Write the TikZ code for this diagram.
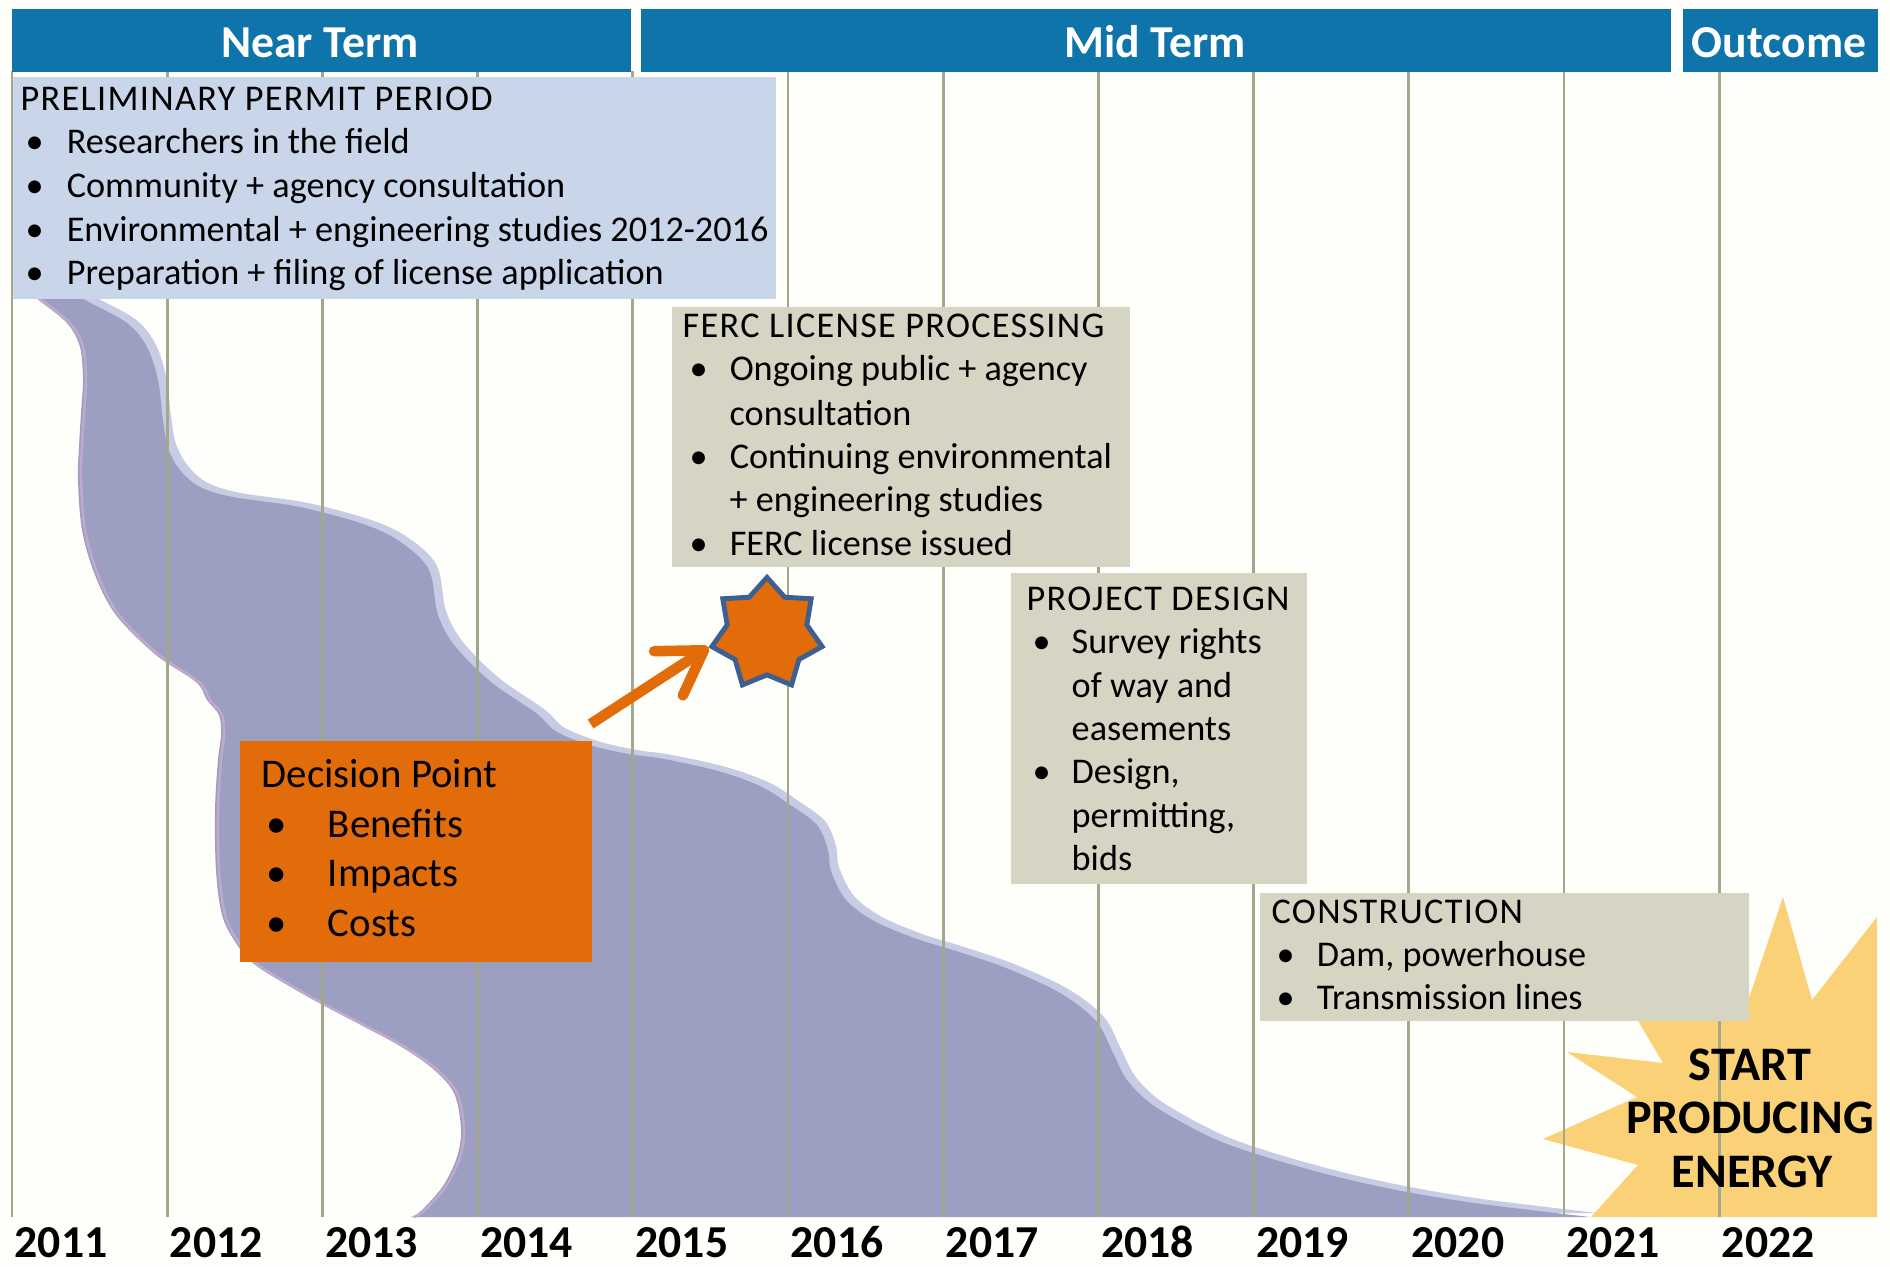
\documentclass[tikz,border=0pt]{standalone}
\usepackage{fontspec}
\setmainfont{Carlito}
\usetikzlibrary{shapes.geometric,arrows.meta,calc}

\definecolor{hdrblue}{RGB}{14,116,170}
\definecolor{permblue}{RGB}{201,213,233}
\definecolor{stone}{RGB}{214,213,196}
\definecolor{decorange}{RGB}{227,108,10}
\definecolor{starblue}{RGB}{62,96,145}
\definecolor{bandpurple}{RGB}{157,159,194}
\definecolor{bandlight}{RGB}{199,203,227}
\definecolor{bandpink}{RGB}{194,168,204}
\definecolor{burstyellow}{RGB}{250,209,118}
\definecolor{gridline}{RGB}{163,167,140}
\definecolor{paper}{RGB}{254,254,250}

% bullet followed by a fixed gap up to the item text
\newcommand{\itembul}[1]{\makebox[#1][l]{\textbullet}}

% the winding band that runs from the permit period down to 2021
\newcommand{\bandfill}[1]{%
  \fill[#1]
    plot[smooth,tension=0.55] coordinates {
      (70,290) (87,301) (127,323) (147,347) (158,380) (163,420) (168,448)
      (180,470) (200,487) (233,497) (300,507) (366,525) (402,543) (429,570)
      (438,615) (455,646) (491,682) (536,713) (557,732) (593,746) (629,754)
      (664,759) (718,771) (760,786) (789,804) (817,825) (828,850) (831,871)
      (846,900) (874,921) (917,939) (953,950) (1006,968) (1060,993)
      (1096,1021) (1113,1053) (1127,1080) (1150,1103) (1183,1123)
      (1217,1140) (1253,1153) (1300,1167) (1350,1180) (1407,1192)
      (1467,1202) (1530,1210) (1590,1217)}
    -- plot[smooth,tension=0.55] coordinates {
      (411,1217) (421,1211) (443,1186) (457,1157) (461,1129) (454,1093)
      (432,1068) (400,1046) (361,1025) (321,1004) (289,986) (254,964)
      (236,943) (222,915) (216,870) (215,810) (218,760) (221,735)
      (219,715) (207,700) (196,682) (156,655) (116,615) (95,575) (82,530)
      (78,480) (79,447) (81,413) (83,380) (80,347) (67,323) (40,301)
      (28,290)}
    -- cycle;}

\newcommand{\bandrim}[1]{%
  \draw[#1]
    plot[smooth,tension=0.55] coordinates {
      (411,1217) (421,1211) (443,1186) (457,1157) (461,1129) (454,1093)
      (432,1068) (400,1046) (361,1025) (321,1004) (289,986) (254,964)
      (236,943) (222,915) (216,870) (215,810) (218,760) (221,735)
      (219,715) (207,700) (196,682) (156,655) (116,615) (95,575) (82,530)
      (78,480) (79,447) (81,413) (83,380) (80,347) (67,323) (40,301)
      (28,290)};}

\begin{document}
\begin{tikzpicture}[x=0.01cm,y=-0.01cm,
  hdr/.style={fill=hdrblue,anchor=north west,inner sep=0pt,minimum height=0.63cm},
  hdrtxt/.style={text=white,anchor=base,inner sep=0pt,
    font=\fontsize{13}{15}\selectfont\bfseries},
  panel/.style={anchor=north west,inner sep=0pt},
  ln/.style={anchor=base west,inner sep=0pt,font=\fontsize{10.3}{12}\selectfont},
  ttl/.style={anchor=base west,inner sep=0pt,
    font=\fontsize{10.3}{12}\selectfont\addfontfeatures{LetterSpace=3.6}},
  dl/.style={anchor=base west,inner sep=0pt,font=\fontsize{11.6}{14}\selectfont},
  yr/.style={anchor=base west,inner sep=0pt,font=\fontsize{13}{15}\selectfont\bfseries},
  sp/.style={anchor=base,inner sep=0pt,font=\fontsize{13.7}{15}\selectfont\bfseries},
  grid/.style={draw=gridline,line width=0.75pt},
  arr/.style={draw=decorange,line width=3pt,
    -{Straight Barb[length=12pt,width=15pt,round]}}]

\useasboundingbox (0,0) rectangle (1890,1266);
\fill[paper] (0,0) rectangle (1890,1266);

% band with its pale upper rim and faint pink left rim
\bandfill{bandlight,shift={(8,-4)}}
\bandfill{bandpurple}
\bandrim{bandpink,line width=0.7pt,shift={(3,0)}}

% starburst of the outcome
\fill[burstyellow] (1591,1217) -- (1638,1165) -- (1543,1139) -- (1637,1097)
  -- (1567,1052) -- (1663,1063) -- (1620,990) -- (1745,1010) -- (1783,897)
  -- (1812,1000) -- (1877,917) -- (1877,1217) -- cycle;

% year grid
\foreach \i in {0,...,11}
  \draw[grid] ({12+155.2*\i},71) -- ({12+155.2*\i},1217);
\foreach \yv [count=\i from 0] in {2011,...,2022}
  \node[yr] (y\yv) at ({14+155.2*\i},1257) {\yv};

% period headers
\node[hdr,minimum width=6.19cm] (near) at (11,8) {};
\node[hdr,minimum width=10.30cm] (mid) at (640,8) {};
\node[hdr,minimum width=1.95cm] (outc) at (1682,8) {};
\node[hdrtxt] (neart) at (320,57) {Near Term};
\node[hdrtxt] (midt) at (1155,57) {Mid Term};
\node[hdrtxt] (outt) at (1779,57) {Outcome};

% preliminary permit period
\node[panel,fill=permblue,minimum width=7.63cm,minimum height=2.22cm] (perm) at (12,76) {};
\node[ttl] (perm0) at (20,110) {PRELIMINARY PERMIT PERIOD};
\node[ln] (perm1) at (25,153) {\itembul{11.7pt}Researchers in the field};
\node[ln] (perm2) at (25,197) {\itembul{11.7pt}Community + agency consultation};
\node[ln] (perm3) at (25,241) {\itembul{11.7pt}Environmental + engineering studies 2012-2016};
\node[ln] (perm4) at (25,284) {\itembul{11.7pt}Preparation + filing of license application};

% FERC license processing
\node[panel,fill=stone,minimum width=4.58cm,minimum height=2.60cm] (ferc) at (671,306) {};
\node[ttl] (ferc0) at (682,337) {FERC LICENSE PROCESSING};
\node[ln] (ferc1) at (689,380) {\itembul{11.4pt}Ongoing public + agency};
\node[ln] (ferc2) at (729,425) {consultation};
\node[ln] (ferc3) at (689,468) {\itembul{11.4pt}Continuing environmental};
\node[ln] (ferc4) at (729,511) {+ engineering studies};
\node[ln] (ferc5) at (689,555) {\itembul{11.4pt}FERC license issued};

% project design
\node[panel,fill=stone,minimum width=2.96cm,minimum height=3.11cm] (dsgn) at (1010,572) {};
\node[ttl] (dsgn0) at (1026,610) {PROJECT DESIGN};
\node[ln] (dsgn1) at (1032,653) {\itembul{11.1pt}Survey rights};
\node[ln] (dsgn2) at (1071,697) {of way and};
\node[ln] (dsgn3) at (1071,740) {easements};
\node[ln] (dsgn4) at (1032,783) {\itembul{11.1pt}Design,};
\node[ln] (dsgn5) at (1071,827) {permitting,};
\node[ln] (dsgn6) at (1071,870) {bids};

% construction
\node[panel,fill=stone,minimum width=4.89cm,minimum height=1.28cm] (cons) at (1259,892) {};
\node[ttl] (cons0) at (1271,923) {CONSTRUCTION};
\node[ln] (cons1) at (1276,966) {\itembul{11.4pt}Dam, powerhouse};
\node[ln] (cons2) at (1276,1009) {\itembul{11.4pt}Transmission lines};

% decision point
\node[panel,fill=decorange,minimum width=3.52cm,minimum height=2.21cm] (dec) at (239,740) {};
\node[dl] (dec0) at (261,787) {Decision Point};
\node[dl] (dec1) at (266,837) {\itembul{17.4pt}Benefits};
\node[dl] (dec2) at (266,886) {\itembul{17.4pt}Impacts};
\node[dl] (dec3) at (266,936) {\itembul{17.4pt}Costs};

% license milestone and the arrow leading to it
\node[star,star points=7,star point ratio=1.385,minimum size=1.13cm,inner sep=0pt,
  fill=decorange,draw=starblue,line width=1.4pt] (mile) at (767,634) {};
\draw[arr] ($(dec.north east)+(-2,-16)$) -- (mile.outer point 3);

% outcome text
\node[sp] (sp1) at (1750,1080) {START};
\node[sp] (sp2) at (1750,1133) {PRODUCING};
\node[sp] (sp3) at (1752,1187) {ENERGY};
\end{tikzpicture}
\end{document}
